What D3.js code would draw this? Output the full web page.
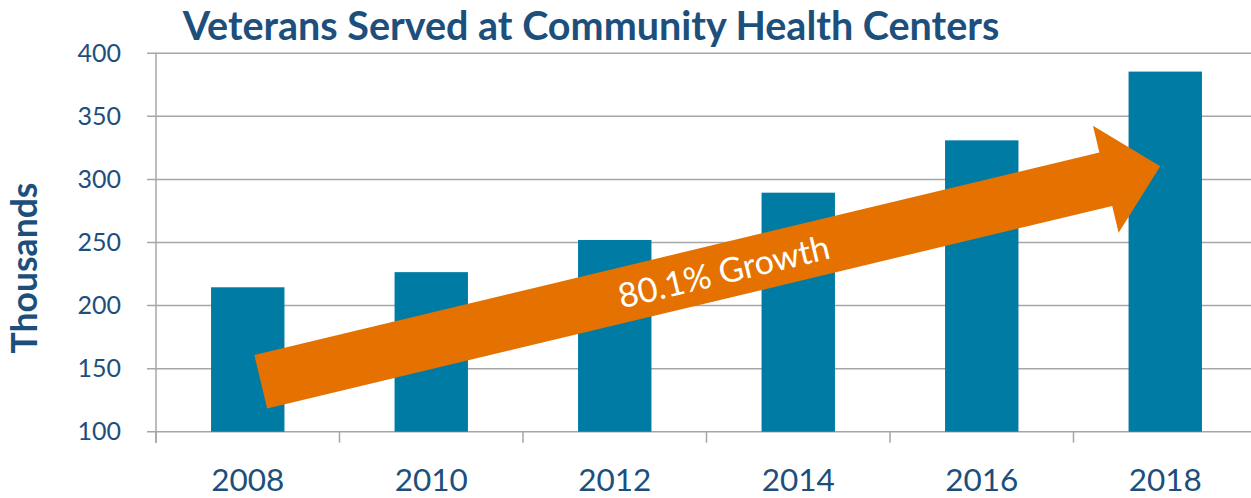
<!DOCTYPE html>
<html>
<head>
<meta charset="utf-8">
<script src="https://cdn.jsdelivr.net/npm/d3@7"></script>
<style>
  body { margin: 0; background: #fff; }
  text { font-family: Lato, "Open Sans", sans-serif; }
</style>
</head>
<body>
<script>
// chart data (thousands of veterans)
var years = ["2008", "2010", "2012", "2014", "2016", "2018"];
var veterans = [214.5, 226.5, 252, 289.5, 331, 385.5];
var yTicks = [100, 150, 200, 250, 300, 350, 400];
var growthLabel = "80.1% Growth";

var svgWidth = 1251;
var svgHeight = 498;

var svg = d3.select("body")
  .append("svg")
  .attr("width", svgWidth)
  .attr("height", svgHeight);

var xScale = d3.scaleBand()
  .domain(years)
  .range([156, 1257])
  .paddingInner(0.6)
  .paddingOuter(0.3);

var yScale = d3.scaleLinear()
  .domain([100, 400])
  .range([431.7, 53.3]);

var textColor = "#1d4f7c";
var gridColor = "#a6a6a6";

// gridlines + left ticks
svg.append("g")
  .selectAll("line")
  .data(yTicks)
  .join("line")
  .attr("x1", 147)
  .attr("x2", 1257)
  .attr("y1", d => yScale(d))
  .attr("y2", d => yScale(d))
  .attr("stroke", gridColor)
  .attr("stroke-width", 1.5);

// y tick labels
svg.append("g")
  .selectAll("text")
  .data(yTicks)
  .join("text")
  .attr("x", 121)
  .attr("y", d => yScale(d))
  .attr("dy", "0.35em")
  .attr("text-anchor", "end")
  .attr("font-size", 25)
  .attr("fill", textColor)
  .text(d => d);

// bars
svg.append("g")
  .selectAll("rect")
  .data(years)
  .join("rect")
  .attr("x", d => xScale(d))
  .attr("width", xScale.bandwidth())
  .attr("y", (d, i) => yScale(veterans[i]))
  .attr("height", (d, i) => yScale(100) - yScale(veterans[i]))
  .attr("fill", "#007ba3");

// category boundary ticks on the x axis
var step = xScale.step();
var boundaries = d3.range(years.length + 1).map(i => xScale.range()[0] + i * step);
svg.append("g")
  .selectAll("line")
  .data(boundaries)
  .join("line")
  .attr("x1", d => d)
  .attr("x2", d => d)
  .attr("y1", yScale(100))
  .attr("y2", yScale(100) + 11)
  .attr("stroke", gridColor)
  .attr("stroke-width", 1.5);

// left axis line
svg.append("line")
  .attr("x1", 156).attr("x2", 156)
  .attr("y1", yScale(400))
  .attr("y2", yScale(100) + 11)
  .attr("stroke", gridColor)
  .attr("stroke-width", 1.5);

// x labels
svg.append("g")
  .selectAll("text")
  .data(years)
  .join("text")
  .attr("x", d => xScale(d) + xScale.bandwidth() / 2)
  .attr("y", 491)
  .attr("text-anchor", "middle")
  .attr("font-size", 31.5)
  .attr("fill", textColor)
  .text(d => d);

// growth arrow, from the 2008 bar to the 2018 bar
var tail = [xScale("2008") + xScale.bandwidth() / 2 + 13, yScale(139.6)];
var tip = [xScale("2018") + xScale.bandwidth() / 2 - 5, yScale(310.5)];
var dx = tip[0] - tail[0], dy = tip[1] - tail[1];
var len = Math.sqrt(dx * dx + dy * dy);
var angle = Math.atan2(dy, dx) * 180 / Math.PI;
var shaftHalf = 27.5, headHalf = 55, headLen = 56;

var arrow = svg.append("g")
  .attr("transform", `translate(${tail[0]},${tail[1]}) rotate(${angle})`);

arrow.append("path")
  .attr("d", d3.line()([
    [0, -shaftHalf],
    [len - headLen, -shaftHalf],
    [len - headLen, -headHalf],
    [len, 0],
    [len - headLen, headHalf],
    [len - headLen, shaftHalf],
    [0, shaftHalf]
  ]) + "Z")
  .attr("fill", "#e57200");

arrow.append("text")
  .attr("x", 476)
  .attr("y", 0)
  .attr("dy", "0.38em")
  .attr("text-anchor", "middle")
  .attr("font-size", 34)
  .attr("fill", "#ffffff")
  .text(growthLabel);

// title
svg.append("text")
  .attr("x", 591)
  .attr("y", 40)
  .attr("text-anchor", "middle")
  .attr("font-size", 39.5)
  .attr("font-weight", "bold")
  .attr("fill", textColor)
  .text("Veterans Served at Community Health Centers");

// y axis title
svg.append("text")
  .attr("transform", "translate(37, 268) rotate(-90)")
  .attr("text-anchor", "middle")
  .attr("font-size", 35.5)
  .attr("font-weight", "bold")
  .attr("fill", textColor)
  .text("Thousands");
</script>
</body>
</html>
